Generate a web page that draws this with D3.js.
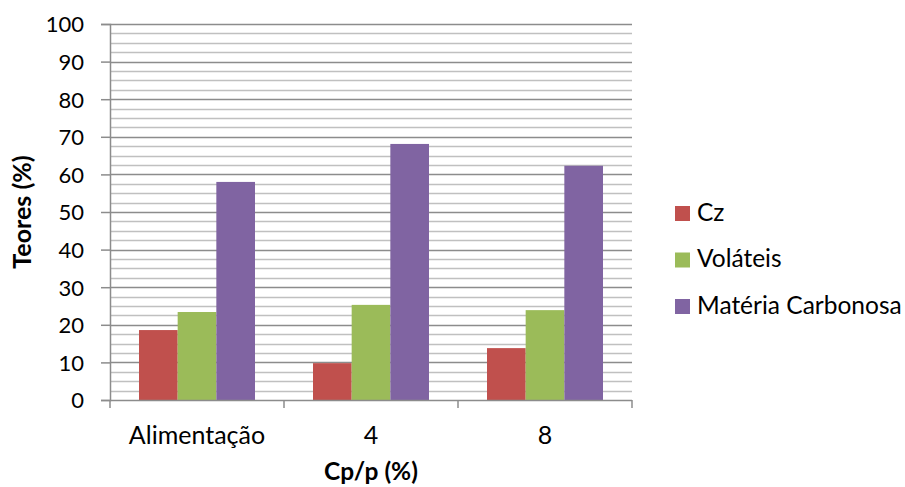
<!DOCTYPE html>
<html>
<head>
<meta charset="utf-8">
<script src="https://cdn.jsdelivr.net/npm/d3@7"></script>
<style>
  html, body { margin: 0; padding: 0; background: #fff; }
  svg text { font-family: Lato, "Open Sans", "Liberation Sans", sans-serif; fill: #000; }
</style>
</head>
<body>
<svg id="chart" width="905" height="487"></svg>
<script>
// Categories, series and values
const categories = ["Alimentação", "4", "8"];
const seriesNames = ["Cz", "Voláteis", "Matéria Carbonosa"];
const cz = [18.6, 9.8, 13.8];
const volateis = [23.4, 25.3, 23.9];
const materiaCarbonosa = [58.0, 68.1, 62.3];
const yTicks = [0, 10, 20, 30, 40, 50, 60, 70, 80, 90, 100];
const colors = ["#C0504D", "#9BBB59", "#8064A2"];

const seriesValues = [cz, volateis, materiaCarbonosa];
const rows = categories.map((c, i) => ({
  cat: c,
  vals: seriesNames.map((s, j) => ({ key: s, value: seriesValues[j][i], color: colors[j] }))
}));

const svg = d3.select("#chart");
const plot = { left: 110, right: 632, top: 24, bottom: 400 };

const x = d3.scaleBand().domain(categories).range([plot.left, plot.right]).paddingInner(0).paddingOuter(0);
const x1 = d3.scaleBand().domain(seriesNames).range([0, x.bandwidth()]).paddingInner(0).paddingOuter(0.75);
const y = d3.scaleLinear().domain([0, 100]).range([plot.bottom, plot.top]);

// minor gridlines every 2.5
const minor = d3.range(0, 100.01, 2.5).filter(v => v % 10 !== 0);
svg.append("g").selectAll("line").data(minor).join("line")
  .attr("x1", plot.left).attr("x2", plot.right)
  .attr("y1", d => Math.round(y(d)) + 0.5).attr("y2", d => Math.round(y(d)) + 0.5)
  .attr("stroke", "#C0C0C0").attr("stroke-width", 1.5);

// major gridlines
svg.append("g").selectAll("line").data(yTicks.filter(v => v > 0)).join("line")
  .attr("x1", plot.left).attr("x2", plot.right)
  .attr("y1", d => Math.round(y(d)) + 0.5).attr("y2", d => Math.round(y(d)) + 0.5)
  .attr("stroke", "#8C8C8C").attr("stroke-width", 1.5);

// bars
const groups = svg.append("g").selectAll("g").data(rows).join("g")
  .attr("transform", d => `translate(${x(d.cat)},0)`);
groups.selectAll("rect").data(d => d.vals).join("rect")
  .attr("x", d => x1(d.key))
  .attr("width", x1.bandwidth())
  .attr("y", d => y(d.value))
  .attr("height", d => y(0) - y(d.value))
  .attr("fill", d => d.color);

// y axis
const yAxis = d3.axisLeft(y).tickValues(yTicks).tickSize(9).tickPadding(17).tickFormat(d3.format("d"));
const gy = svg.append("g").attr("transform", `translate(${plot.left},0)`).call(yAxis);
gy.select(".domain").attr("stroke", "#8C8C8C").attr("stroke-width", 1.5);
gy.selectAll(".tick line").attr("stroke", "#8C8C8C").attr("stroke-width", 1.5);
gy.selectAll(".tick text").attr("font-size", 22).attr("dy", "0.36em")
  .style("font-family", "Lato, 'Open Sans', sans-serif");

// x axis
const gx = svg.append("g").attr("transform", `translate(0,${plot.bottom})`);
gx.append("line").attr("x1", plot.left).attr("x2", plot.right).attr("y1", 0.5).attr("y2", 0.5)
  .attr("stroke", "#8C8C8C").attr("stroke-width", 1.5);
const boundaries = categories.map(c => x(c)).concat([plot.right]);
gx.selectAll("line.b").data(boundaries).join("line").attr("class", "b")
  .attr("x1", d => d).attr("x2", d => d).attr("y1", 0).attr("y2", 8)
  .attr("stroke", "#8C8C8C").attr("stroke-width", 1.5);
gx.selectAll("text").data(categories).join("text")
  .attr("x", d => x(d) + x.bandwidth() / 2).attr("y", 44)
  .attr("text-anchor", "middle").attr("font-size", 25).text(d => d);

// axis titles
svg.append("text").attr("x", 371).attr("y", 480)
  .attr("text-anchor", "middle").attr("font-size", 24.5).attr("font-weight", "bold").text("Cp/p (%)");
svg.append("text").attr("transform", "translate(31,212) rotate(-90)")
  .attr("text-anchor", "middle").attr("font-size", 25).attr("font-weight", "bold").text("Teores (%)");

// legend
const legend = svg.append("g").attr("transform", "translate(675,212)");
const li = legend.selectAll("g").data(seriesNames).join("g")
  .attr("transform", (d, i) => `translate(0,${i * 46.5})`);
li.append("rect").attr("x", 0).attr("y", -6).attr("width", 15).attr("height", 15)
  .attr("fill", (d, i) => colors[i]);
li.append("text").attr("x", 22).attr("y", 0).attr("dy", "0.36em")
  .attr("font-size", 24.5).text(d => d);
</script>
</body>
</html>
